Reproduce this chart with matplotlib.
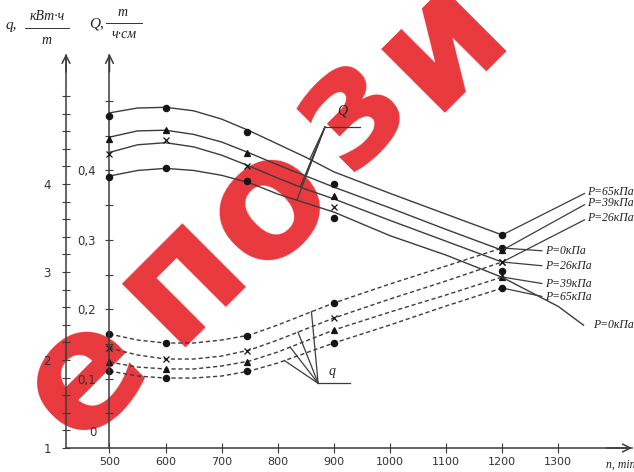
import numpy as np
import matplotlib
matplotlib.use('Agg')
import matplotlib.pyplot as plt
from matplotlib.lines import Line2D
from matplotlib.ticker import FixedLocator


## опытные точки
n_pts = [500, 600, 745, 900, 1200]

# производительность Q, т/(ч·см)
Q_p65 = [0.479, 0.490, 0.455, 0.380, 0.307]
Q_p39 = [0.446, 0.458, 0.425, 0.363, 0.285]
Q_p26 = [0.424, 0.444, 0.406, 0.347, 0.268]
Q_p0 = [0.391, 0.403, 0.385, 0.332, 0.255]

# удельная энергоёмкость q, кВт·ч/т
q_p0 = [2.295, 2.190, 2.273, 2.648, 3.273]
q_p26 = [2.136, 2.008, 2.106, 2.474, 3.114]
q_p39 = [1.981, 1.898, 1.981, 2.341, 2.943]
q_p65 = [1.875, 1.792, 1.875, 2.190, 2.818]

## сглаженные кривые
n_line = [500, 550, 600, 650, 700, 750, 800, 850, 900, 1000, 1100, 1200]
Qc_p65 = [0.483, 0.490, 0.491, 0.486, 0.474, 0.457, 0.438, 0.419, 0.398, 0.367, 0.337, 0.307]
Qc_p39 = [0.448, 0.457, 0.458, 0.452, 0.441, 0.425, 0.408, 0.392, 0.376, 0.346, 0.315, 0.285]
Qc_p26 = [0.426, 0.437, 0.440, 0.434, 0.422, 0.406, 0.389, 0.373, 0.359, 0.328, 0.298, 0.268]
n_line0 = n_line + [1300, 1345]
Qc_p0 = [0.392, 0.400, 0.403, 0.400, 0.393, 0.382, 0.366, 0.353, 0.340, 0.306, 0.278, 0.246, 0.204, 0.177]

qc_p0 = [2.295, 2.227, 2.193, 2.193, 2.227, 2.284, 2.398, 2.523, 2.648, 2.864, 3.068, 3.273]
qc_p26 = [2.136, 2.057, 2.011, 2.011, 2.045, 2.114, 2.227, 2.352, 2.477, 2.693, 2.898, 3.114]
qc_p39 = [1.977, 1.920, 1.898, 1.898, 1.932, 1.989, 2.091, 2.216, 2.341, 2.545, 2.739, 2.943]
qc_p65 = [1.875, 1.818, 1.795, 1.795, 1.818, 1.875, 1.966, 2.080, 2.193, 2.398, 2.614, 2.818]

x_ticks = [500, 600, 700, 800, 900, 1000, 1100, 1200, 1300]
Q_ticks = [0.1, 0.2, 0.3, 0.4]
Q_ticklabels = ['0,1', '0,2', '0,3', '0,4']
q_ticks = [1, 2, 3, 4]
q_ticklabels = ['1', '2', '3', '4']

LC = '#3c3c3c'
MC = '#151515'
SERIF = ['Liberation Serif', 'DejaVu Serif']

W, H = 634, 472
fig = plt.figure(figsize=(W / 100, H / 100), dpi=100)


def px(x, y):
    return x / W, 1 - y / H


## водяной знак
for ch, (cx, cy) in zip('епози', [(85, 375), (180, 275), (268, 205), (350, 108), (440, 40)]):
    fig.text(*px(cx, cy), ch, fontsize=118, fontweight='bold', color='#e8383d',
             rotation=45, ha='center', va='center', zorder=-1)

ax = fig.add_axes([66 / W, 1 - 448 / H, (632 - 66) / W, (448 - 55) / H])
ax.patch.set_visible(False)
axQ = ax.twinx()
axQ.patch.set_visible(False)

ax.set_xlim(422.5, 1431.4)
ax.set_ylim(1, 5.466)
axQ.set_ylim(0, 0.5664)

for a in (ax, axQ):
    a.spines['top'].set_visible(False)
    a.spines['right'].set_visible(False)
axQ.spines['bottom'].set_visible(False)
for s in ('left', 'bottom'):
    ax.spines[s].set_color(LC)
    ax.spines[s].set_linewidth(1.1)
axQ.spines['left'].set_position(('data', 500))
axQ.spines['left'].set_color(LC)
axQ.spines['left'].set_linewidth(1.1)
axQ.yaxis.set_ticks_position('left')
axQ.yaxis.set_label_position('left')

# оси со стрелками
ax.annotate('', xy=(0, 1.01), xytext=(0, 0.95), xycoords='axes fraction',
            arrowprops=dict(arrowstyle='->', color=LC, lw=1.1, mutation_scale=14))
ax.annotate('', xy=(500, 1.01), xytext=(500, 0.95), xycoords=('data', 'axes fraction'),
            arrowprops=dict(arrowstyle='->', color=LC, lw=1.1, mutation_scale=14))
ax.annotate('', xy=(1.005, 0), xytext=(0.95, 0), xycoords='axes fraction',
            arrowprops=dict(arrowstyle='->', color=LC, lw=1.1, mutation_scale=14))

# деления
ax.set_xticks(x_ticks)
ax.set_xticklabels([str(v) for v in x_ticks])
ax.tick_params(axis='x', direction='inout', length=7, width=0.8, color=LC,
               labelsize=8, labelcolor='#333333', pad=3)
ax.yaxis.set_major_locator(FixedLocator(q_ticks))
ax.set_yticklabels(q_ticklabels)
ax.yaxis.set_minor_locator(FixedLocator(np.arange(1.2, 5.01, 0.2)))
ax.tick_params(axis='y', which='both', direction='inout', length=6, width=0.8,
               color=LC, labelsize=8.5, labelcolor='#333333', pad=8)
axQ.yaxis.set_major_locator(FixedLocator(Q_ticks))
axQ.set_yticklabels(Q_ticklabels)
axQ.yaxis.set_minor_locator(FixedLocator([0.05, 0.15, 0.25, 0.35, 0.45, 0.5]))
axQ.tick_params(axis='y', which='both', direction='inout', length=6, width=0.8,
                color=LC, labelsize=8.5, labelcolor='#333333', pad=7)
axQ.text(471, 0.022, '0', fontsize=8.5, color='#333333', ha='center', va='center')

## кривые Q
for Qc in (Qc_p65, Qc_p39, Qc_p26):
    axQ.plot(n_line, Qc, color=LC, lw=1.0)
axQ.plot(n_line0, Qc_p0, color=LC, lw=1.0)

## кривые q
for qc in (qc_p0, qc_p26, qc_p39, qc_p65):
    ax.plot(n_line, qc, color=LC, lw=1.0, ls=(0, (3, 2)))

# маркеры
mk = dict(ls='none', color=MC, zorder=5)
for vals, m, ms in ((Q_p65, 'o', 4.5), (Q_p39, '^', 5), (Q_p26, 'x', 4), (Q_p0, 'o', 4.5)):
    axQ.plot(n_pts, vals, marker=m, ms=ms, mew=0.9, **mk)
for vals, m, ms in ((q_p0, 'o', 4.5), (q_p26, 'x', 4), (q_p39, '^', 5), (q_p65, 'o', 4.5)):
    ax.plot(n_pts, vals, marker=m, ms=ms, mew=0.9, **mk)

## подписи давлений
lbl = dict(family=SERIF, style='italic', fontsize=8.5, color='#222222', va='center',
           ha='left', annotation_clip=False)
arr = dict(arrowstyle='-', color=LC, lw=0.9, shrinkA=0, shrinkB=0, relpos=(0, 0.5))
for Qc, txt, ty in ((Qc_p65, 'P=65кПа', 0.369), (Qc_p39, 'P=39кПа', 0.353),
                    (Qc_p26, 'P=26кПа', 0.331)):
    axQ.annotate(txt, xy=(1200, Qc[-1]), xytext=(1352, ty), arrowprops=arr, **lbl)
axQ.text(1362, Qc_p0[-1], 'P=0кПа', family=SERIF, style='italic', fontsize=8.5,
         color='#222222', va='center', ha='left')
for qc, txt, ty in ((qc_p0, 'P=0кПа', 3.239), (qc_p26, 'P=26кПа', 3.068),
                    (qc_p39, 'P=39кПа', 2.864), (qc_p65, 'P=65кПа', 2.716)):
    ax.annotate(txt, xy=(1200, qc[-1]), xytext=(1276, ty), arrowprops=arr, **lbl)

## выноски Q и q
hub_Q = (884, 0.4625)
axQ.plot([hub_Q[0], 947], [hub_Q[1], hub_Q[1]], color=LC, lw=0.9)
for Qc, nn in ((Qc_p65, 857), (Qc_p39, 850), (Qc_p26, 840), (Qc_p0, 834)):
    axQ.plot([hub_Q[0], nn], [hub_Q[1], np.interp(nn, n_line0[:len(Qc)], Qc)],
             color=LC, lw=0.9)
axQ.text(915, 0.486, 'Q', family=SERIF, style='italic', fontsize=10, color='#222222',
         ha='center', va='center')

hub_q = (872, 1.735)
ax.plot([hub_q[0], 929], [hub_q[1], hub_q[1]], color=LC, lw=0.9)
for qc, nn in ((qc_p0, 860), (qc_p26, 836), (qc_p39, 822), (qc_p65, 812)):
    ax.plot([hub_q[0], nn], [hub_q[1], np.interp(nn, n_line, qc)], color=LC, lw=0.9)
ax.text(896, 1.867, 'q', family=SERIF, style='italic', fontsize=10, color='#222222',
        ha='center', va='center')

## обозначения осей
tk = dict(family=SERIF, style='italic', color='#222222', ha='center', va='center')
fig.text(*px(11, 26), 'q,', fontsize=11, **tk)
fig.text(*px(47, 17), 'кВт·ч', fontsize=10, **tk)
fig.text(*px(47, 41), 'т', fontsize=10, **tk)
fig.add_artist(Line2D([25 / W, 69 / W], [1 - 28 / H, 1 - 28 / H], color='#333333', lw=0.7))
fig.text(*px(97, 24), 'Q,', fontsize=11, **tk)
fig.text(*px(123, 12), 'т', fontsize=10, **tk)
fig.text(*px(124, 34), 'ч·см', fontsize=10, **tk)
fig.add_artist(Line2D([106 / W, 142 / W], [1 - 23 / H, 1 - 23 / H], color='#333333', lw=0.7))
fig.text(*px(606, 465), 'n, min⁻¹', fontsize=8.5, family=SERIF, style='italic',
         color='#222222', ha='left', va='center')

fig.savefig('out.png', dpi=100)
